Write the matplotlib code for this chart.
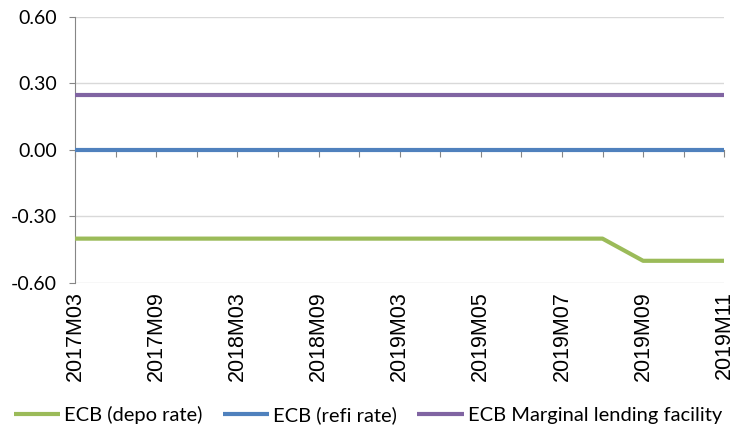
import numpy as np
import matplotlib.pyplot as plt

plt.rcParams['font.family'] = ['Lato', 'DejaVu Sans']
plt.rcParams['axes.unicode_minus'] = False

# categories (label shown on every second one)
periods = ['2017M03', '2017M06', '2017M09', '2017M12', '2018M03', '2018M06',
           '2018M09', '2018M12', '2019M03', '2019M04', '2019M05', '2019M06',
           '2019M07', '2019M08', '2019M09', '2019M10', '2019M11']
depo = [-0.40] * 14 + [-0.50] * 3
refi = [0.00] * 17
mlf = [0.25] * 17

series = ['ECB (depo rate)', 'ECB (refi rate)', 'ECB Marginal lending facility']
colors = ['#9BBB59', '#4F81BD', '#8064A2']
yticks = [-0.60, -0.30, 0.00, 0.30, 0.60]

fig = plt.figure(figsize=(7.36, 4.34), dpi=100)
ax = fig.add_axes([0.102, 0.348, 0.882, 0.613])

x = np.arange(len(periods))
for vals, name, c in zip([depo, refi, mlf], series, colors):
    ax.plot(x, vals, color=c, lw=3, label=name, solid_capstyle='butt', zorder=3)

ax.set_xlim(0, len(periods) - 1)
ax.set_ylim(-0.60, 0.60)
ax.set_yticks(yticks)
ax.set_yticklabels(['%.2f' % v for v in yticks], fontsize=14)
ax.yaxis.grid(True, color='#D9D9D9', lw=1)
ax.set_axisbelow(True)

for s in ['top', 'right']:
    ax.spines[s].set_visible(False)
ax.spines['left'].set_color('#868686')
ax.spines['bottom'].set_position(('data', 0))
ax.spines['bottom'].set_color('#868686')
ax.tick_params(axis='y', length=4, color='#868686', pad=9)
ax.set_xticks(x)
ax.tick_params(axis='x', length=5, color='#868686', labelbottom=False)

# labels at the bottom of the plot
sec = ax.secondary_xaxis('bottom')
sec.set_xticks(x[::2])
sec.set_xticklabels(periods[::2], rotation=90, fontsize=15.5,
                    family='Liberation Sans')
sec.tick_params(length=0, pad=6)
sec.spines['bottom'].set_visible(False)

fig.legend(loc='center', bbox_to_anchor=(0.5, 0.044), ncol=3, frameon=False,
           fontsize=14.5, handlelength=2.3, handletextpad=0.2,
           columnspacing=1.0)

fig.savefig('out.png', dpi=100)
